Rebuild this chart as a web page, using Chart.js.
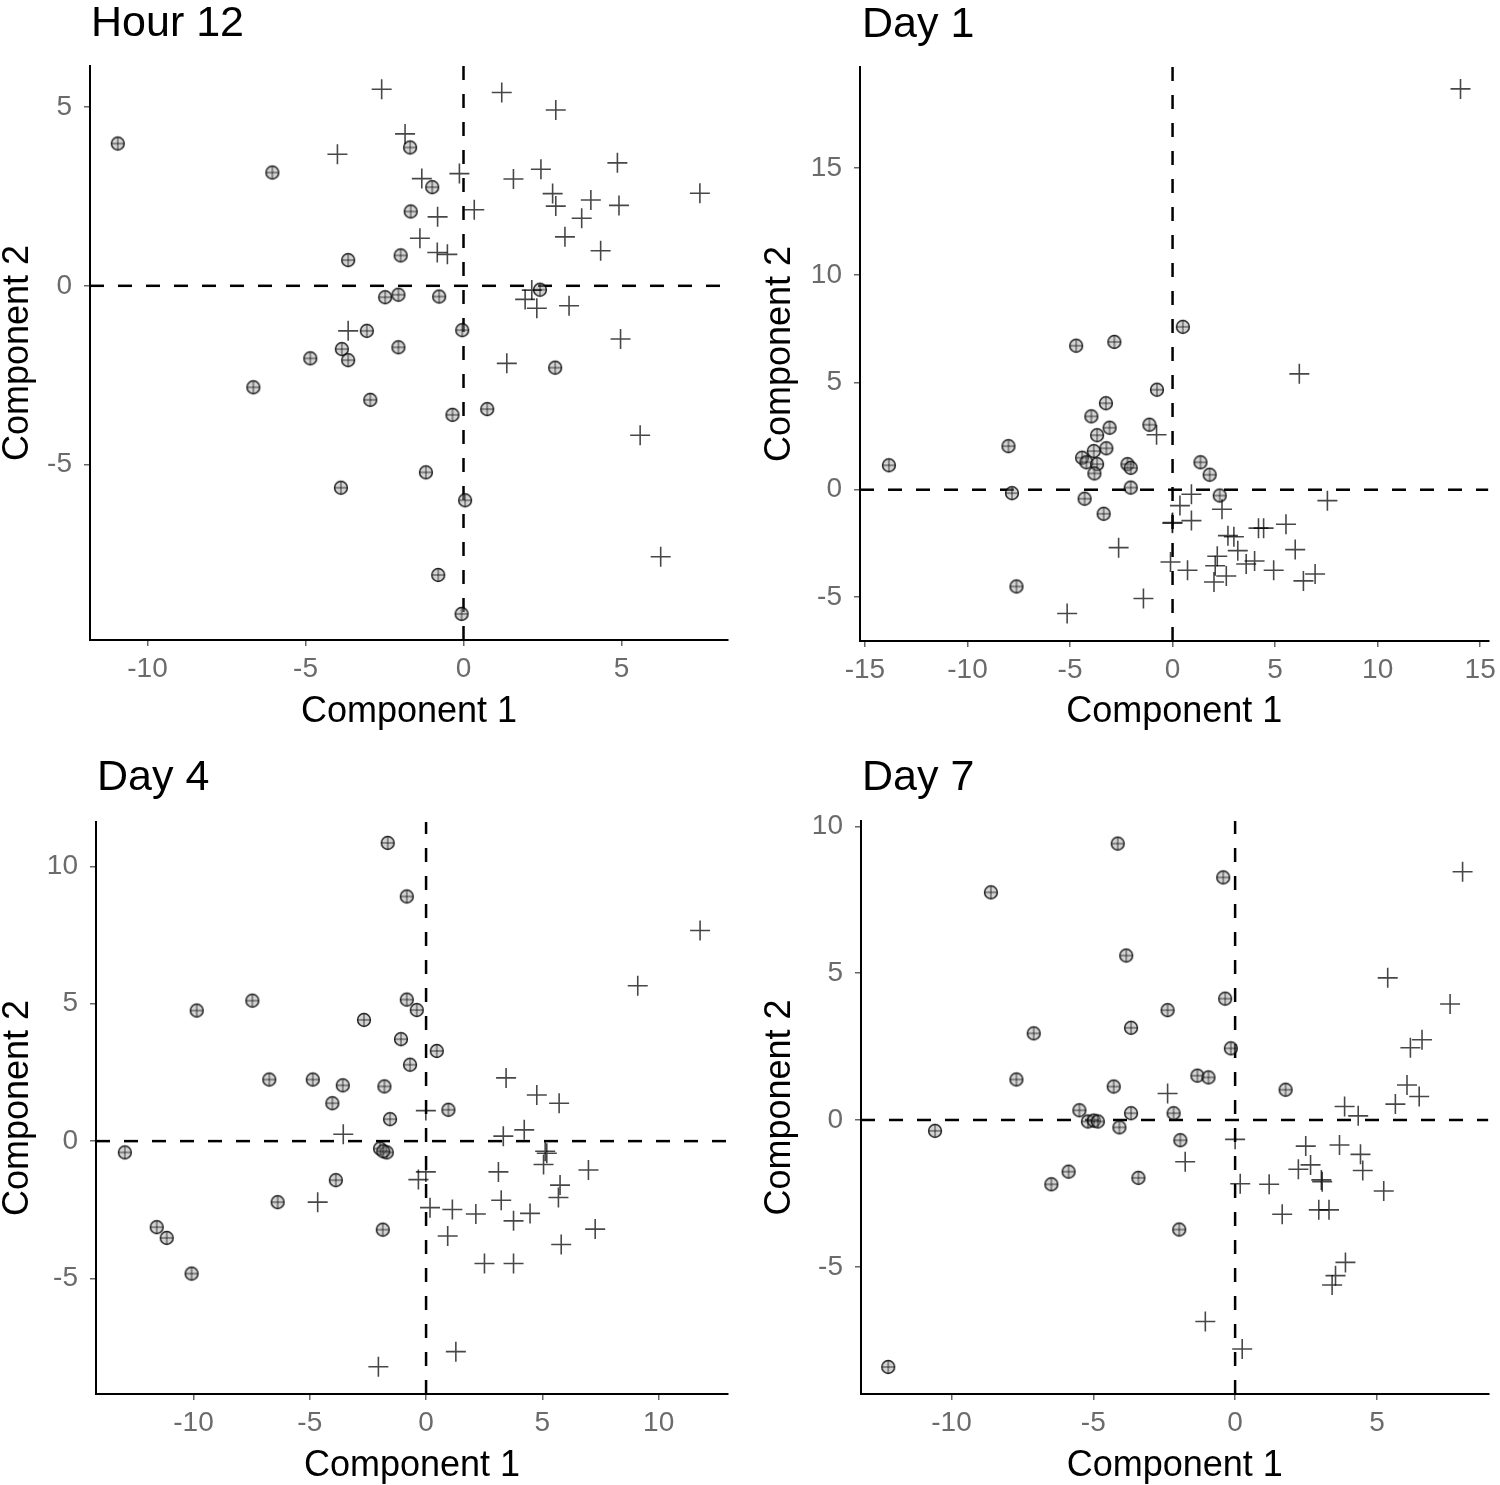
<!DOCTYPE html>
<html>
<head>
<meta charset="utf-8">
<title>Component plots</title>
<script src="https://cdn.jsdelivr.net/npm/chart.js@4.4.0/dist/chart.umd.min.js"></script>
<style>
    body { margin: 0; background: #fff; }
    #page { position: relative; width: 1500px; height: 1485px; background: #fff; }
    .panel { position: absolute; }
</style>
</head>
<body>
<div id="page">
    <canvas id="hour12" class="panel" width="750" height="740" style="left:0px;top:0px"></canvas>
    <canvas id="day1" class="panel" width="750" height="740" style="left:750px;top:0px"></canvas>
    <canvas id="day4" class="panel" width="750" height="740" style="left:0px;top:745px"></canvas>
    <canvas id="day7" class="panel" width="750" height="740" style="left:750px;top:745px"></canvas>
</div>
<script>
// Données : [composante 1, composante 2]

// Hour 12
const hour12Circles = [
    [-10.94, 3.98], [-6.05, 3.17], [-1.69, 3.87], [-0.99, 2.76], [-1.67, 2.08], [-1.99, 0.85],
    [-3.65, 0.72], [-2.48, -0.32], [-2.06, -0.25], [-0.77, -0.30], [-0.04, -1.24], [-3.06, -1.26],
    [-3.85, -1.77], [-3.65, -2.08], [-4.85, -2.03], [-2.06, -1.72], [-6.65, -2.84], [-2.95, -3.19],
    [-0.35, -3.61], [0.75, -3.45], [2.90, -2.29], [2.42, -0.11], [-1.19, -5.22], [-3.88, -5.65],
    [0.05, -6.00], [-0.80, -8.09], [-0.06, -9.18]
];
const hour12Crosses = [
    [-2.59, 5.50], [-1.85, 4.25], [-3.99, 3.68], [-3.65, -1.26], [1.21, 5.41], [2.92, 4.92],
    [4.87, 3.44], [-0.13, 3.14], [-1.32, 3.00], [1.58, 2.99], [2.45, 3.26], [2.82, 2.58],
    [2.92, 2.23], [4.03, 2.40], [4.92, 2.25], [7.48, 2.59], [3.74, 1.89], [-0.82, 1.93],
    [0.34, 2.13], [3.21, 1.37], [-1.38, 1.33], [4.34, 0.98], [-0.83, 0.93], [-0.51, 0.88],
    [1.95, -0.38], [2.32, -0.63], [2.16, -0.12], [3.34, -0.56], [4.97, -1.49], [1.37, -2.17],
    [5.59, -4.18], [6.24, -7.58]
];
const hour12XTicks = [-10, -5, 0, 5];
const hour12YTicks = [-5, 0, 5];

// Day 1
const day1Circles = [
    [-13.83, 1.14], [-8.00, 2.03], [-7.83, -0.16], [-7.61, -4.51], [-4.70, 6.71], [-2.84, 6.89],
    [-0.76, 4.66], [-3.25, 4.03], [-3.96, 3.42], [-3.07, 2.89], [-1.13, 3.03], [-3.68, 2.54],
    [-3.23, 1.93], [-3.84, 1.80], [-4.41, 1.49], [-4.20, 1.28], [-3.68, 1.19], [-3.81, 0.76],
    [-2.20, 1.19], [-2.04, 1.02], [-2.04, 0.10], [-4.29, -0.42], [-3.36, -1.12], [0.50, 7.59],
    [1.36, 1.28], [1.81, 0.70], [2.30, -0.27]
];
const day1Crosses = [
    [-0.78, 2.56], [-2.63, -2.70], [0.00, -1.53], [-0.10, -3.37], [-1.42, -5.07], [-5.14, -5.77],
    [14.04, 18.68], [6.18, 5.40], [0.92, -0.21], [0.36, -0.74], [-0.01, -1.56], [0.92, -1.44],
    [2.41, -0.91], [7.55, -0.51], [0.73, -3.75], [2.70, -2.14], [2.99, -2.19], [3.18, -2.84],
    [2.18, -3.10], [2.08, -3.54], [2.62, -4.02], [2.02, -4.30], [3.59, -3.46], [4.00, -3.32],
    [4.19, -1.79], [4.44, -1.79], [5.53, -1.61], [5.98, -2.79], [4.93, -3.75], [6.38, -4.25],
    [6.95, -3.93]
];
const day1XTicks = [-15, -10, -5, 0, 5, 10, 15];
const day1YTicks = [-5, 0, 5, 10, 15];

// Day 4
const day4Circles = [
    [-1.65, 10.85], [-0.83, 8.90], [-9.86, 4.75], [-7.47, 5.11], [-0.83, 5.15], [-0.40, 4.77],
    [-2.67, 4.41], [-1.08, 3.71], [-0.69, 2.78], [-6.74, 2.24], [-4.87, 2.24], [-3.58, 2.03],
    [-4.03, 1.38], [-1.79, 1.99], [-1.55, 0.80], [-12.95, -0.41], [-1.98, -0.27], [-1.69, -0.41],
    [-1.84, -0.37], [-3.88, -1.42], [-6.38, -2.22], [-1.86, -3.22], [-11.58, -3.13], [-11.15, -3.52],
    [-10.08, -4.82], [0.46, 3.28], [0.96, 1.14]
];
const day4Crosses = [
    [-3.56, 0.25], [-4.66, -2.22], [-2.05, -8.21], [11.78, 7.66], [9.10, 5.65], [3.44, 2.30],
    [4.76, 1.68], [5.72, 1.38], [-0.01, 1.11], [4.22, 0.41], [3.32, 0.18], [5.12, -0.37],
    [5.19, -0.44], [5.05, -0.85], [6.98, -1.05], [3.11, -1.12], [-0.01, -1.12], [-0.33, -1.40],
    [5.76, -1.60], [5.69, -2.05], [3.23, -2.15], [0.17, -2.42], [1.13, -2.49], [2.14, -2.65],
    [3.76, -2.90], [4.47, -2.63], [0.93, -3.45], [7.27, -3.20], [5.81, -3.76], [2.51, -4.45],
    [3.76, -4.45], [1.28, -7.66]
];
const day4XTicks = [-10, -5, 0, 5, 10];
const day4YTicks = [-5, 0, 5, 10];

// Day 7
const day7Circles = [
    [-4.14, 9.41], [-8.61, 7.75], [-3.84, 5.60], [-2.38, 3.74], [-3.67, 3.14], [-7.10, 2.95],
    [-7.71, 1.38], [-4.28, 1.14], [-5.49, 0.33], [-5.19, -0.05], [-4.98, -0.02], [-4.84, -0.05],
    [-3.67, 0.23], [-4.08, -0.25], [-2.17, 0.23], [-10.58, -0.37], [-5.87, -1.76], [-6.48, -2.19],
    [-3.41, -1.97], [-1.93, -0.69], [-1.97, -3.73], [-12.23, -8.41], [-0.42, 8.26], [-0.35, 4.13],
    [-0.15, 2.44], [-1.33, 1.51], [-0.94, 1.45], [1.78, 1.03]
];
const day7Crosses = [
    [8.02, 8.45], [5.38, 4.84], [7.58, 3.95], [6.59, 2.73], [6.18, 2.46], [6.06, 1.19],
    [6.49, 0.80], [5.65, 0.54], [-2.38, 0.90], [3.86, 0.46], [4.34, 0.14], [0.00, -0.66],
    [2.49, -0.89], [3.68, -0.85], [4.42, -1.17], [4.50, -1.72], [-1.76, -1.42], [2.23, -1.68],
    [2.66, -1.53], [3.04, -2.04], [3.07, -2.10], [5.24, -2.42], [0.18, -2.17], [1.20, -2.19],
    [1.66, -3.21], [2.95, -3.06], [3.31, -3.06], [3.89, -4.85], [3.54, -5.30], [3.42, -5.62],
    [-1.05, -6.86], [0.25, -7.80]
];
const day7XTicks = [-10, -5, 0, 5];
const day7YTicks = [-5, 0, 5, 10];

const FONT = '"Liberation Sans", Arial, Helvetica, sans-serif';
const TICK_GREY = '#6b6b6b';

// Plugin pour le titre de chaque panneau (aligné sur la zone du graphique)
const panelTitle = {
    id: 'panelTitle',
    afterDraw(chart, args, opts) {
        const ctx = chart.ctx;
        ctx.save();
        ctx.font = '43px ' + FONT;
        ctx.fillStyle = '#000';
        ctx.textBaseline = 'alphabetic';
        ctx.textAlign = 'left';
        ctx.fillText(opts.text, chart.chartArea.left + opts.dx, opts.baseline);
        ctx.restore();
    }
};

// Marqueur cercle barré (⊕)
function makeCircleMarker() {
    const c = document.createElement('canvas');
    c.width = 18;
    c.height = 18;
    const g = c.getContext('2d');
    g.beginPath();
    g.arc(9, 9, 6.4, 0, Math.PI * 2);
    g.fillStyle = 'rgba(160, 160, 160, 0.45)';
    g.fill();
    g.lineWidth = 1.5;
    g.strokeStyle = 'rgba(0, 0, 0, 0.85)';
    g.stroke();
    g.beginPath();
    g.moveTo(9, 2.6);
    g.lineTo(9, 15.4);
    g.moveTo(2.6, 9);
    g.lineTo(15.4, 9);
    g.lineWidth = 1;
    g.strokeStyle = 'rgba(0, 0, 0, 0.75)';
    g.stroke();
    return c;
}

const toPoints = arr => arr.map(p => ({ x: p[0], y: p[1] }));

function makePanel(cfg) {
    const ctx = document.getElementById(cfg.id).getContext('2d');
    const marker = makeCircleMarker();
    const dash = {
        type: 'line',
        borderColor: '#000',
        borderWidth: 2.5,
        borderDash: [14, 14],
        pointRadius: 0,
        showLine: true,
        fill: false,
        order: 3
    };

    new Chart(ctx, {
        type: 'scatter',
        data: {
            datasets: [
                Object.assign({ data: [{ x: cfg.xMin, y: 0 }, { x: cfg.xMax, y: 0 }] }, dash),
                Object.assign({ data: [{ x: 0, y: cfg.yMin }, { x: 0, y: cfg.yMax }] }, dash),
                {
                    data: toPoints(cfg.circles),
                    pointStyle: marker,
                    pointRadius: 7,
                    order: 2
                },
                {
                    data: toPoints(cfg.crosses),
                    pointStyle: 'cross',
                    pointRadius: 10,
                    borderWidth: 1.6,
                    borderColor: 'rgba(0, 0, 0, 0.72)',
                    order: 1
                }
            ]
        },
        options: {
            responsive: false,
            animation: false,
            events: [],
            layout: { padding: cfg.pad },
            plugins: {
                legend: { display: false },
                tooltip: { enabled: false },
                panelTitle: { text: cfg.title, baseline: cfg.titleBaseline, dx: cfg.titleDx }
            },
            scales: {
                x: {
                    type: 'linear',
                    min: cfg.xMin,
                    max: cfg.xMax,
                    afterBuildTicks: s => { s.ticks = cfg.xTicks.map(v => ({ value: v })); },
                    afterFit: s => { s.height = cfg.xHeight; s.paddingLeft = 0; s.paddingRight = 0; },
                    border: { display: true, color: '#000', width: 2 },
                    grid: { display: true, drawOnChartArea: false, drawTicks: true, tickLength: 6, color: '#666', lineWidth: 1.5 },
                    ticks: { color: TICK_GREY, padding: 6, maxRotation: 0, font: { family: FONT, size: 28 }, callback: v => String(v) },
                    title: { display: true, text: 'Component 1', color: '#000', padding: 0, font: { family: FONT, size: 36, lineHeight: 1 } }
                },
                y: {
                    type: 'linear',
                    min: cfg.yMin,
                    max: cfg.yMax,
                    afterBuildTicks: s => { s.ticks = cfg.yTicks.map(v => ({ value: v })); },
                    afterFit: s => { s.width = cfg.yWidth; s.paddingTop = 0; s.paddingBottom = 0; },
                    border: { display: true, color: '#000', width: 2 },
                    grid: { display: true, drawOnChartArea: false, drawTicks: true, tickLength: 6, color: '#666', lineWidth: 1.5 },
                    ticks: { color: TICK_GREY, padding: 12, font: { family: FONT, size: 28 }, callback: v => String(v) },
                    title: { display: true, text: 'Component 2', color: '#000', padding: 0, font: { family: FONT, size: 36, lineHeight: 1 } }
                }
            }
        },
        plugins: [panelTitle]
    });
}

document.addEventListener('DOMContentLoaded', function() {
    makePanel({
        id: 'hour12', title: 'Hour 12', titleBaseline: 36, titleDx: 1,
        circles: hour12Circles, crosses: hour12Crosses,
        xMin: -11.82, xMax: 8.37, yMin: -9.91, yMax: 6.15,
        xTicks: hour12XTicks, yTicks: hour12YTicks,
        pad: { left: 0, top: 66, right: 22, bottom: 10 }, yWidth: 90, xHeight: 90
    });
    makePanel({
        id: 'day1', title: 'Day 1', titleBaseline: 37, titleDx: 2,
        circles: day1Circles, crosses: day1Crosses,
        xMin: -15.24, xMax: 15.40, yMin: -7.05, yMax: 19.70,
        xTicks: day1XTicks, yTicks: day1YTicks,
        pad: { left: 12, top: 67, right: 8, bottom: 10 }, yWidth: 98, xHeight: 89
    });
    makePanel({
        id: 'day4', title: 'Day 4', titleBaseline: 45, titleDx: 1,
        circles: day4Circles, crosses: day4Crosses,
        xMin: -14.19, xMax: 12.98, yMin: -9.20, yMax: 11.61,
        xTicks: day4XTicks, yTicks: day4YTicks,
        pad: { left: 0, top: 77, right: 22, bottom: 1 }, yWidth: 96, xHeight: 90
    });
    makePanel({
        id: 'day7', title: 'Day 7', titleBaseline: 45, titleDx: 1,
        circles: day7Circles, crosses: day7Crosses,
        xMin: -13.19, xMax: 8.93, yMin: -9.33, yMax: 10.18,
        xTicks: day7XTicks, yTicks: day7YTicks,
        pad: { left: 12, top: 76, right: 10, bottom: 1 }, yWidth: 99, xHeight: 90
    });
});
</script>
</body>
</html>
